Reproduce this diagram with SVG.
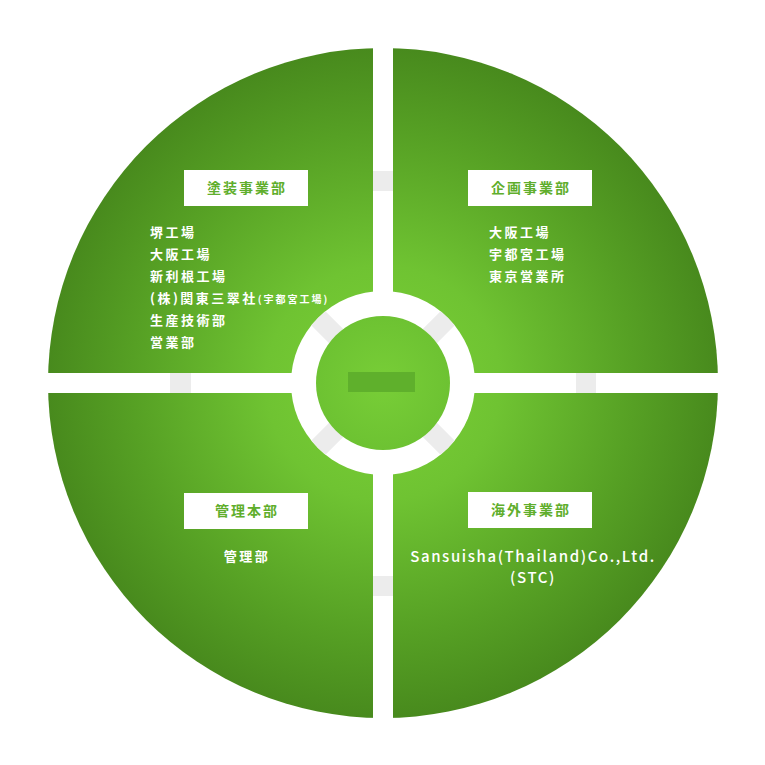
<svg xmlns="http://www.w3.org/2000/svg" width="765" height="765" viewBox="0 0 765 765">
  <defs>
    <radialGradient id="bigGrad" cx="383" cy="383" r="335" gradientUnits="userSpaceOnUse">
      <stop offset="0" stop-color="#7bd136"/>
      <stop offset="0.35" stop-color="#6fc332"/>
      <stop offset="0.75" stop-color="#56a024"/>
      <stop offset="1" stop-color="#488a1d"/>
    </radialGradient>
    <radialGradient id="coreGrad" cx="383" cy="383" r="68" gradientUnits="userSpaceOnUse">
      <stop offset="0" stop-color="#78ce37"/>
      <stop offset="1" stop-color="#6dc232"/>
    </radialGradient>
    <clipPath id="ringClip">
      <path clip-rule="evenodd" d="M383,291a92,92 0 1,1 0,184a92,92 0 1,1 0,-184zM383,316a67,67 0 1,0 0,134a67,67 0 1,0 0,-134z"/>
    </clipPath>
    <style>
      .box { fill: #ffffff; }
      .boxlabel { font-family: "Noto Sans CJK JP", "Noto Sans", sans-serif; font-size: 14px; font-weight: 700; fill: #5fae2c; letter-spacing: 2px; text-anchor: middle; }
      .item { font-family: "Noto Sans CJK JP", "Noto Sans", sans-serif; font-size: 13px; font-weight: 700; fill: #ffffff; letter-spacing: 2.5px; }
      .latin { font-family: "Noto Sans CJK JP", "Noto Sans", sans-serif; font-size: 15px; font-weight: 500; fill: #ffffff; letter-spacing: 1.6px; text-anchor: middle; }
      .small { font-size: 10px; letter-spacing: 2px; }
      .band { fill: #ffffff; }
      .mark { fill: #ececec; }
    </style>
  </defs>

  <rect width="765" height="765" fill="#ffffff"/>

  <!-- base circle -->
  <circle cx="383" cy="383" r="335" fill="url(#bigGrad)"/>

  <!-- connectors: white bands with grey markers, ring -->
  <g id="connectors">
    <rect class="band" x="373" y="40" width="20" height="690"/>
    <rect class="band" x="40" y="373" width="690" height="20"/>
    <rect class="mark" x="373" y="171" width="20" height="20"/>
    <rect class="mark" x="373" y="576" width="20" height="20"/>
    <rect class="mark" x="170" y="373" width="21" height="20"/>
    <rect class="mark" x="576" y="373" width="20" height="20"/>
    <circle cx="383" cy="383" r="92" fill="#ffffff"/>
    <g clip-path="url(#ringClip)">
      <rect class="mark" x="440" y="373" width="60" height="20" transform="rotate(-45 383 383)"/>
      <rect class="mark" x="440" y="373" width="60" height="20" transform="rotate(45 383 383)"/>
      <rect class="mark" x="440" y="373" width="60" height="20" transform="rotate(135 383 383)"/>
      <rect class="mark" x="440" y="373" width="60" height="20" transform="rotate(-135 383 383)"/>
    </g>
  </g>

  <!-- center node -->
  <g id="center">
    <circle cx="383" cy="383" r="67" fill="url(#coreGrad)"/>
    <rect x="348" y="372" width="67" height="20" fill="#5fb02c"/>
  </g>

  <!-- 塗装事業部 -->
  <g id="toso">
    <rect class="box" x="184" y="170" width="124" height="36"/>
    <text class="boxlabel" x="247" y="193">塗装事業部</text>
    <text class="item" x="150" y="237">堺工場</text>
    <text class="item" x="150" y="259">大阪工場</text>
    <text class="item" x="150" y="281">新利根工場</text>
    <text class="item" x="150" y="303">(株)関東三翠社<tspan class="small">(宇都宮工場)</tspan></text>
    <text class="item" x="150" y="325">生産技術部</text>
    <text class="item" x="150" y="347">営業部</text>
  </g>

  <!-- 企画事業部 -->
  <g id="kikaku">
    <rect class="box" x="468" y="170" width="124" height="36"/>
    <text class="boxlabel" x="531" y="193">企画事業部</text>
    <text class="item" x="489" y="237">大阪工場</text>
    <text class="item" x="489" y="259">宇都宮工場</text>
    <text class="item" x="489" y="281">東京営業所</text>
  </g>

  <!-- 管理本部 -->
  <g id="kanri">
    <rect class="box" x="184" y="493" width="124" height="36"/>
    <text class="boxlabel" x="247" y="516">管理本部</text>
    <text class="item" x="247" y="561" text-anchor="middle">管理部</text>
  </g>

  <!-- 海外事業部 -->
  <g id="kaigai">
    <rect class="box" x="468" y="492" width="124" height="36"/>
    <text class="boxlabel" x="531" y="515">海外事業部</text>
    <text class="latin" x="533" y="562">Sansuisha(Thailand)Co.,Ltd.</text>
    <text class="latin" x="533" y="583">(STC)</text>
  </g>
</svg>
